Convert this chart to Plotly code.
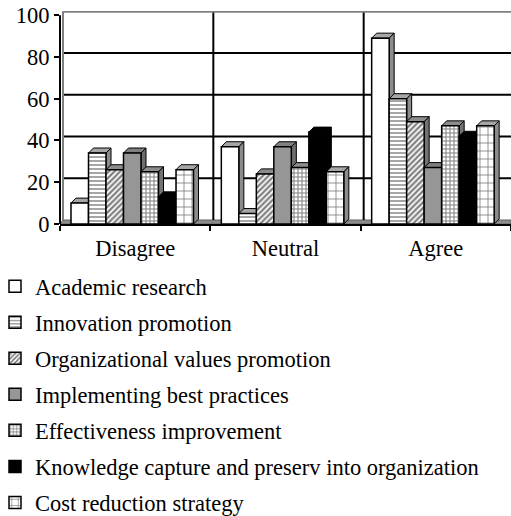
"""Perception of knowledge management goals - 3D style clustered columns."""

import plotly.graph_objects as go

categories = ["Disagree", "Neutral", "Agree"]
series_names = [
    "Academic research",
    "Innovation promotion",
    "Organizational values promotion",
    "Implementing best practices",
    "Effectiveness improvement",
    "Knowledge capture and preserv into organization",
    "Cost reduction strategy",
]
academic_research = [10, 37, 89]
innovation_promotion = [34, 5, 60]
organizational_values = [26, 24, 49]
best_practices = [34, 37, 27]
effectiveness = [25, 27, 47]
knowledge_capture = [13, 44, 42]
cost_reduction = [26, 25, 47]
y_tick_values = [0, 20, 40, 60, 80, 100]

series_values = [
    academic_research,
    innovation_promotion,
    organizational_values,
    best_practices,
    effectiveness,
    knowledge_capture,
    cost_reduction,
]

# fill, pattern, top-face colour, side-face colour
styles = [
    dict(color="white", pattern=None, top="#a6a6a6", side="#8c8c8c"),
    dict(color="white", pattern=dict(shape="-", size=4, solidity=0.35), top="#a6a6a6", side="#8c8c8c"),
    dict(color="white", pattern=dict(shape="/", size=4, solidity=0.55), top="#8c8c8c", side="#737373"),
    dict(color="#969696", pattern=None, top="#808080", side="#6e6e6e"),
    dict(color="white", pattern=dict(shape="+", size=4, solidity=0.45), top="#8c8c8c", side="#737373"),
    dict(color="black", pattern=None, top="black", side="black"),
    dict(color="white", pattern=dict(shape="+", size=8, solidity=0.2), top="#a6a6a6", side="#8c8c8c"),
]

FONT = "Liberation Serif, Times New Roman, serif"
FS = 22.5
W, H = 511, 516
M_L, M_R, M_T, M_B = 60, 0, 11, 292
Y_MAX = 102
plot_w = W - M_L - M_R
plot_h = H - M_T - M_B
px_x = 3 / plot_w
px_y = Y_MAX / plot_h

bar_w = 17.5 * px_x
group_start = -0.5 + 11 * px_x
depth_x, depth_y = 5 * px_x, 5 * px_y
wall_x, wall_y = 3 * px_x, 4 * px_y

fig = go.Figure()
shapes = []

# back wall, floor and grid
shapes.append(dict(type="path", layer="below", xref="x", yref="y",
                   path=f"M-0.5,0 L{-0.5 + wall_x},{wall_y} L2.5,{wall_y} L2.5,0 Z",
                   fillcolor="#8c8c8c", line=dict(color="#606060", width=1)))
for v in y_tick_values[1:-1]:
    shapes.append(dict(type="line", layer="below", xref="x", yref="y",
                       x0=-0.5 + wall_x, x1=2.5, y0=v + wall_y, y1=v + wall_y,
                       line=dict(color="black", width=2)))
for b in [0.5, 1.5]:
    shapes.append(dict(type="line", layer="below", xref="x", yref="y",
                       x0=b + wall_x, x1=b + wall_x, y0=wall_y, y1=100 + wall_y,
                       line=dict(color="black", width=2)))
shapes.append(dict(type="line", layer="below", xref="x", yref="y",
                   x0=-0.5 + wall_x, x1=2.5, y0=100 + wall_y, y1=100 + wall_y,
                   line=dict(color="#808080", width=3)))
shapes.append(dict(type="line", layer="below", xref="x", yref="y",
                   x0=-0.5 + wall_x, x1=-0.5 + wall_x, y0=wall_y, y1=100 + wall_y,
                   line=dict(color="#808080", width=2)))
# front value axis
shapes.append(dict(type="line", layer="above", xref="paper", yref="y",
                   x0=0, x1=0, y0=0, y1=100, line=dict(color="black", width=2)))

for i, (name, values, st) in enumerate(zip(series_names, series_values, styles)):
    offset = group_start + i * bar_w
    marker = dict(color=st["color"], line=dict(color="black", width=1.5))
    if st["pattern"]:
        marker["pattern"] = dict(st["pattern"], fgcolor="black", bgcolor="white")
    fig.add_trace(go.Bar(
        x=categories, y=values, name=name, width=bar_w, offset=offset,
        marker=marker, legendgroup=name,
    ))
    # top and side faces for the 3D look
    for j, v in enumerate(values):
        x0 = j + offset
        x1 = x0 + bar_w
        shapes.append(dict(type="path", layer="between", xref="x", yref="y",
                           path=f"M{x0},{v} L{x0 + depth_x},{v + depth_y} L{x1 + depth_x},{v + depth_y} L{x1},{v} Z",
                           fillcolor=st["top"], line=dict(color="black", width=1)))
        shapes.append(dict(type="path", layer="between", xref="x", yref="y",
                           path=f"M{x1},0 L{x1},{v} L{x1 + depth_x},{v + depth_y} L{x1 + depth_x},{depth_y} Z",
                           fillcolor=st["side"], line=dict(color="black", width=1)))

fig.update_layout(
    width=W, height=H,
    margin=dict(l=M_L, r=M_R, t=M_T, b=M_B, autoexpand=False),
    paper_bgcolor="white", plot_bgcolor="white",
    barmode="overlay",
    font=dict(family=FONT, size=FS, color="black"),
    shapes=shapes,
    showlegend=True,
    legend=dict(
        orientation="v", xref="paper", yref="paper",
        x=-65 / plot_w, y=-41 / plot_h,
        xanchor="left", yanchor="top",
        font=dict(family=FONT, size=FS, color="black"),
        tracegroupgap=3.8, traceorder="grouped",
        maxheight=400,
        bgcolor="rgba(0,0,0,0)",
    ),
    xaxis=dict(
        type="category", range=[-0.5, 2.5], showgrid=False, zeroline=False,
        showline=True, linecolor="black", linewidth=2,
        ticks="outside", tickson="boundaries", ticklen=5, tickwidth=1.5, tickcolor="black",
        ticklabelstandoff=3,
        tickfont=dict(family=FONT, size=FS, color="black"),
    ),
    yaxis=dict(
        range=[0, Y_MAX], tickvals=y_tick_values, showgrid=False, zeroline=False,
        showline=False, ticks="outside", ticklen=5, tickwidth=1.5, tickcolor="black",
        ticklabelstandoff=0, ticklabeloverflow="allow",
        tickfont=dict(family=FONT, size=FS, color="black"),
    ),
)

# drop the default 8px page margin so the figure sits at the window corner
fig.write_html(
    "out.html",
    config={"displayModeBar": False},
    post_script="document.body.style.margin = '0';",
)
